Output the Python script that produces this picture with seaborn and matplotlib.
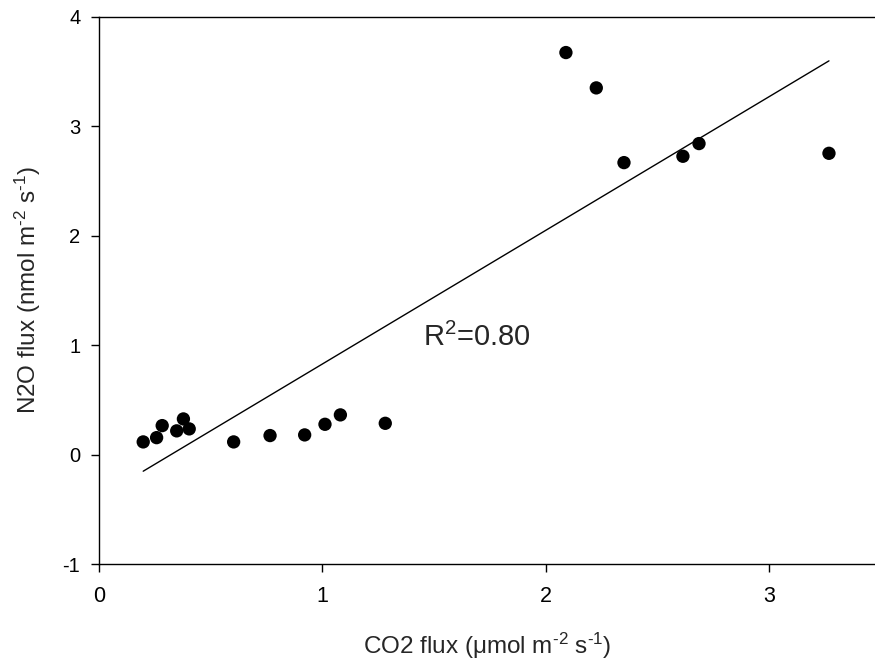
import numpy as np
import pandas as pd
import matplotlib
matplotlib.use("Agg")
import matplotlib.pyplot as plt
import seaborn as sns

# values
co2_flux = [0.198, 0.258, 0.283, 0.348, 0.378, 0.404, 0.603, 0.766, 0.921, 1.012,
            1.081, 1.282, 2.091, 2.227, 2.351, 2.615, 2.687, 3.269]
n2o_flux = [0.116, 0.155, 0.265, 0.217, 0.326, 0.235, 0.116, 0.174, 0.180, 0.277,
            0.363, 0.286, 3.675, 3.352, 2.669, 2.727, 2.843, 2.754]
x_ticks = [0, 1, 2, 3]
y_ticks = [-1, 0, 1, 2, 3, 4]
r2_label = "R$^2$=0.80"

df = pd.DataFrame({"co2": co2_flux, "n2o": n2o_flux})

sns.set_style("ticks")
plt.rcParams["font.family"] = ["Liberation Sans", "DejaVu Sans"]
plt.rcParams["mathtext.fontset"] = "custom"
plt.rcParams["mathtext.rm"] = "Liberation Sans"
plt.rcParams["mathtext.it"] = "Liberation Sans:italic"
plt.rcParams["mathtext.default"] = "regular"
plt.rcParams["axes.unicode_minus"] = False

fig = plt.figure(figsize=(8.75, 6.62), dpi=100)
ax = fig.add_axes([99 / 875, 1 - 564 / 662, 1 - 99 / 875, (564 - 17) / 662])

# scatter + least squares line over the data range
sns.regplot(data=df, x="co2", y="n2o", ax=ax, ci=None, truncate=True,
            scatter_kws={"s": 92, "color": "black", "edgecolor": "none", "alpha": 1},
            line_kws={"color": "black", "linewidth": 1.0})

ax.set_xlim(0, (875 - 99) / 223.3)
ax.set_ylim(-1, 4)
ax.set_xticks(x_ticks)
ax.set_yticks(y_ticks)
ax.tick_params(direction="out", length=5.5, width=1, colors="black")
ax.tick_params(axis="x", pad=10.5, labelsize=15.5)
ax.tick_params(axis="y", pad=8, labelsize=14.5)
for side in ["left", "bottom", "top"]:
    ax.spines[side].set_visible(True)
    ax.spines[side].set_linewidth(1.0)
    ax.spines[side].set_color("black")
ax.spines["right"].set_visible(False)

ax.set_xlabel("CO2 flux (\u03bcmol m$^{\\text{-2}}$ s$^{\\text{-1}}$)", fontsize=17.5, labelpad=17)
ax.set_ylabel(r"N2O flux (nmol m$^{\text{-2}}$ s$^{\text{-1}}$)", fontsize=17.5, labelpad=14)

ax.text(1.693, 1.07, r2_label, fontsize=21, ha="center", va="center")

fig.savefig("out.png", dpi=100)
